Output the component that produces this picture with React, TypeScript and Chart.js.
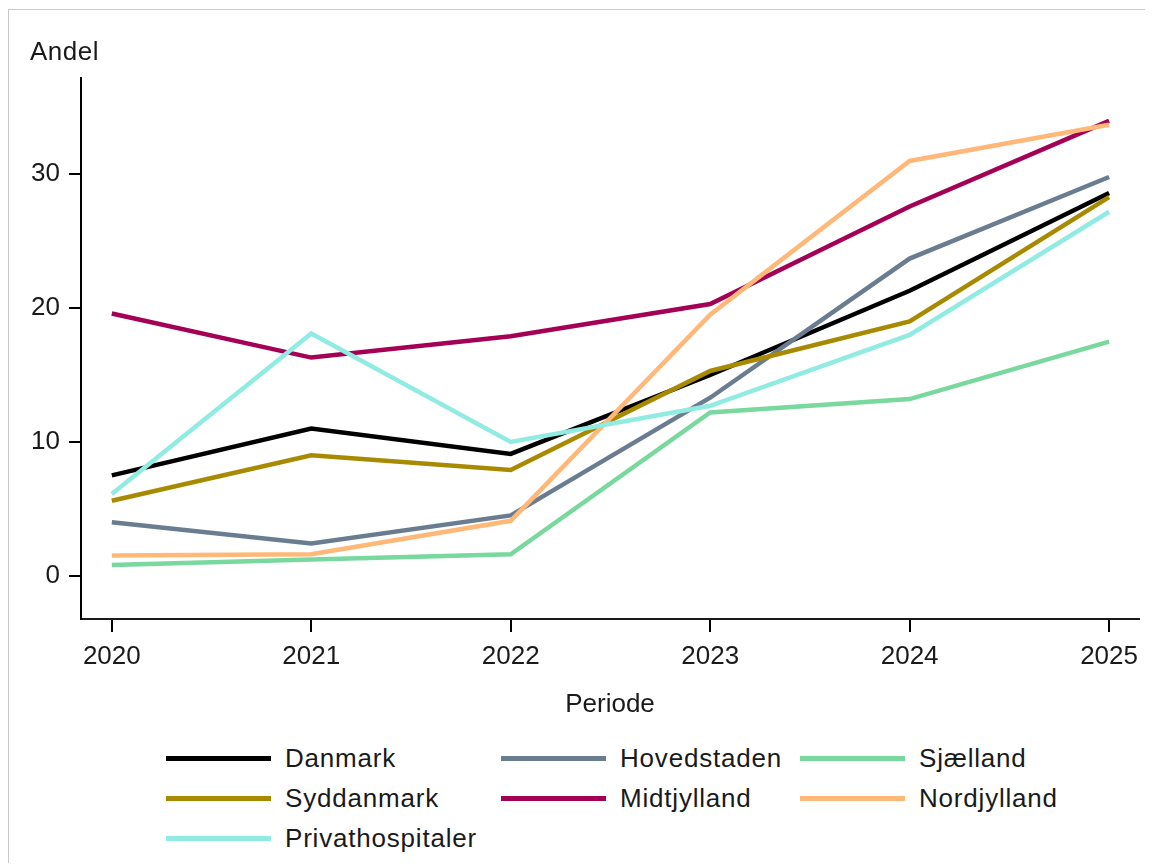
import React, { useEffect, useRef } from "react";
import { Chart, registerables } from "chart.js";

Chart.register(...registerables);

const years = [2020, 2021, 2022, 2023, 2024, 2025];
const yTicks = [0, 10, 20, 30];

const seriesNames = [
  "Danmark",
  "Hovedstaden",
  "Sjælland",
  "Syddanmark",
  "Midtjylland",
  "Nordjylland",
  "Privathospitaler",
];

const danmark = [7.5, 11.0, 9.1, 15.0, 21.3, 28.6];
const hovedstaden = [4.0, 2.4, 4.5, 13.3, 23.7, 29.8];
const sjaelland = [0.8, 1.2, 1.6, 12.2, 13.2, 17.5];
const syddanmark = [5.6, 9.0, 7.9, 15.3, 19.0, 28.3];
const midtjylland = [19.6, 16.3, 17.9, 20.3, 27.6, 34.0];
const nordjylland = [1.5, 1.6, 4.1, 19.5, 31.0, 33.7];
const privathospitaler = [6.1, 18.1, 10.0, 12.7, 18.0, 27.2];

const seriesValues = [
  danmark,
  hovedstaden,
  sjaelland,
  syddanmark,
  midtjylland,
  nordjylland,
  privathospitaler,
];

const seriesColors = [
  "#000000",
  "#6a7d90",
  "#78d89e",
  "#a88a00",
  "#a40055",
  "#ffb877",
  "#90ebe2",
];

// legend layout order (rows of three)
const legendOrder = [0, 1, 2, 3, 4, 5, 6];

const FONT = "'Liberation Sans', Arial, Helvetica, sans-serif";
const FS = 26;

const yTitlePlugin = {
  id: "yTitle",
  afterDraw(chart: any) {
    const ctx = chart.ctx;
    ctx.save();
    ctx.font = `${FS}px ${FONT}`;
    try {
      (ctx as any).letterSpacing = "0.5px";
    } catch (e) {}
    ctx.fillStyle = "#1a1a1a";
    ctx.textAlign = "left";
    ctx.textBaseline = "alphabetic";
    ctx.fillText("Andel", 21, 50);
    ctx.restore();
  },
};

export default function App() {
  const ref = useRef<HTMLCanvasElement | null>(null);

  useEffect(() => {
    if (!ref.current) return;
    const chart = new Chart(ref.current, {
      type: "line",
      data: {
        datasets: seriesNames.map((name, i) => ({
          label: name,
          data: years.map((x, j) => ({ x, y: seriesValues[i][j] })),
          borderColor: seriesColors[i],
          backgroundColor: seriesColors[i],
          borderWidth: 4.5,
          pointRadius: 0,
          pointHoverRadius: 0,
          tension: 0,
          fill: false,
          order: seriesNames.length - i,
        })),
      },
      options: {
        animation: false,
        responsive: false,
        maintainAspectRatio: false,
        layout: { padding: { top: 68, right: 14, left: 0, bottom: 0 } },
        plugins: {
          legend: { display: false },
          tooltip: { enabled: false },
          title: { display: false },
        },
        scales: {
          x: {
            type: "linear",
            min: 2019.8455,
            max: 2025.15,
            afterFit: (scale: any) => {
              scale.height = 105;
            },
            afterBuildTicks: (scale: any) => {
              scale.ticks = years.map((v) => ({ value: v }));
            },
            ticks: {
              callback: (v: any) => String(v),
              font: { family: FONT, size: FS },
              color: "#1a1a1a",
              padding: 9,
              maxRotation: 0,
              autoSkip: false,
            },
            grid: {
              drawOnChartArea: false,
              drawTicks: true,
              tickLength: 13,
              color: "#000000",
              lineWidth: 2,
            },
            border: { display: true, color: "#1a1a1a", width: 2 },
            title: {
              display: true,
              text: "Periode",
              font: { family: FONT, size: FS },
              color: "#1a1a1a",
              padding: { top: 4, bottom: 4 },
            },
          },
          y: {
            type: "linear",
            min: -3.24,
            max: 37.2,
            afterFit: (scale: any) => {
              scale.width = 72;
            },
            afterBuildTicks: (scale: any) => {
              scale.ticks = yTicks.map((v) => ({ value: v }));
            },
            ticks: {
              callback: (v: any) => String(v),
              font: { family: FONT, size: FS },
              color: "#1a1a1a",
              padding: 9,
            },
            grid: {
              drawOnChartArea: false,
              drawTicks: true,
              tickLength: 12,
              color: "#000000",
              lineWidth: 2,
            },
            border: { display: true, color: "#000000", width: 2 },
          },
        },
      },
      plugins: [yTitlePlugin],
    });
    return () => chart.destroy();
  }, []);

  return (
    <div
      style={{
        position: "relative",
        marginTop: 1,
        borderTop: "1px solid #c8c8c8",
        borderLeft: "1px solid #c8c8c8",
        width: 1144,
        height: 853,
        background: "#ffffff",
        fontFamily: FONT,
      }}
    >
      <canvas ref={ref} width={1144} height={714} style={{ display: "block" }} />
      <div
        style={{
          position: "absolute",
          left: 157,
          top: 728,
          display: "grid",
          gridTemplateColumns: "335px 299px 300px",
          gridAutoRows: "40px",
          fontSize: FS,
          letterSpacing: "0.8px",
          color: "#1a1a1a",
        }}
      >
        {legendOrder.map((i) => (
          <div key={seriesNames[i]} style={{ display: "flex", alignItems: "center", whiteSpace: "nowrap" }}>
            <span
              style={{
                display: "inline-block",
                width: 105,
                height: 5,
                background: seriesColors[i],
                marginRight: 14,
              }}
            />
            <span style={{ lineHeight: "30px" }}>{seriesNames[i]}</span>
          </div>
        ))}
      </div>
    </div>
  );
}
